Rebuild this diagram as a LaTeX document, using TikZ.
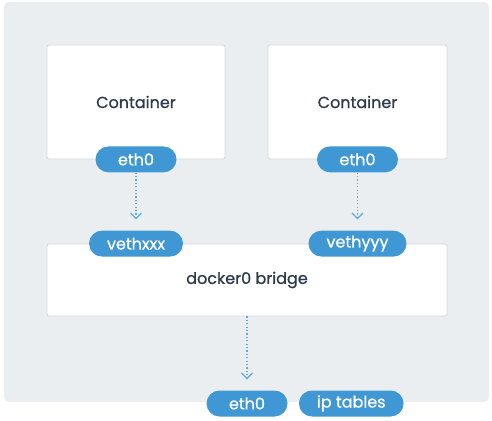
\documentclass[tikz,border=0pt]{standalone}
\usepackage{fontspec}
\setmainfont{Poppins}[UprightFeatures={FakeBold=0.8}]
\usetikzlibrary{arrows.meta,positioning}
\definecolor{bgGray}{HTML}{EBEEF0}
\definecolor{boxLine}{HTML}{D3D8DB}
\definecolor{pillBlue}{HTML}{3F98D4}
\definecolor{linkBlue}{HTML}{5AAAE2}
\definecolor{txtDark}{HTML}{2E3A4B}
\newcommand{\lblfont}{\fontsize{16}{18}\selectfont}
\tikzset{
    box/.style={draw=boxLine, fill=white, line width=0.8pt, rounded corners=2pt,
        text=txtDark, font=\lblfont},
    pill/.style={fill=pillBlue, text=white, rounded corners=13pt, minimum height=26pt,
        minimum width=81pt, inner xsep=18pt, inner ysep=0pt, font=\lblfont},
    link/.style={linkBlue, line width=1.2pt, dash pattern=on 1.2pt off 2.2pt,
        -{Straight Barb[length=5.5pt, width=11pt, line width=1.2pt]}}
}

\begin{document}
\begin{tikzpicture}[x=1pt, y=-1pt]

    \useasboundingbox (0,0) rectangle (492,420);
    \fill [bgGray, rounded corners=5pt] (4,2) rectangle (489,402);

    \node [box, minimum width=178pt, minimum height=114pt] (c1) at (136,102) {Container};
    \node [box, minimum width=179pt, minimum height=114pt] (c2) at (357.5,102) {Container};
    \node [box, minimum width=400pt, minimum height=72pt] (bridge) at (247,280)
        {docker0 bridge};

    \node [pill] (eth1) at (c1.south) {eth0};
    \node [pill] (eth2) at (c2.south) {eth0};
    \node [pill] (vx) at (c1.south |- bridge.north) {vethxxx};
    \node [pill] (vy) at (c2.south |- bridge.north) {vethyyy};

    \node [pill] (eth) at (247,403.5) {eth0};
    \node [pill, right=11pt of eth] (ipt) {ip tables};

    \draw [link, shorten >=11pt] (eth1) -- (vx);
    \draw [link, shorten >=11pt] (eth2) -- (vy);
    \draw [link, shorten >=11pt] (bridge) -- (eth);

\end{tikzpicture}
\end{document}
